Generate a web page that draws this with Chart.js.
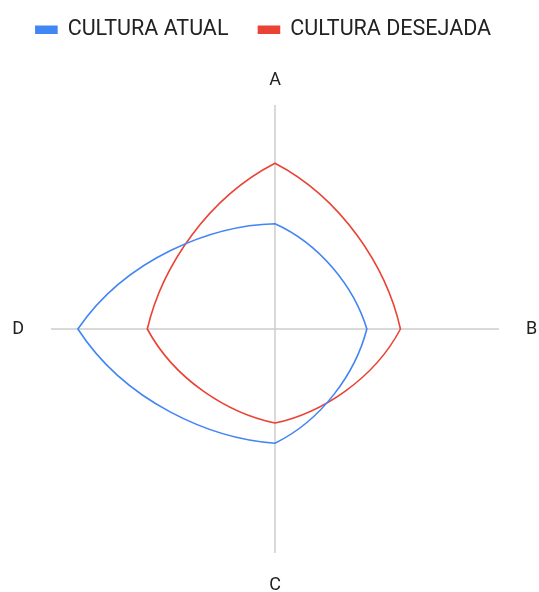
<!DOCTYPE html>
<html><head><meta charset="utf-8">
<script src="https://cdn.jsdelivr.net/npm/chart.js@4/dist/chart.umd.min.js"></script>
<style>html,body{margin:0;padding:0;background:#fff}#wrap{width:539px;height:592px}</style>
</head><body><div id="wrap"><canvas id="c"></canvas></div>
<script>
const categories = ['A', 'B', 'C', 'D'];
const atual = [47, 41, 51, 88];
const desejada = [74, 56, 42, 57];
const seriesNames = ['CULTURA ATUAL', 'CULTURA DESEJADA'];

// Curved segments: bezier control points blended between straight chords and polar arcs
const polarArcs = {
  id: 'polarArcs',
  beforeDatasetDraw(chart, args) {
    const meta = args.meta, scale = chart.scales.r, pts = meta.data, n = pts.length;
    if (!n) return;
    const cx = scale.xCenter, cy = scale.yCenter, dth = 2 * Math.PI / n, k = 1.05, w = 0.5;
    const pol = pts.map((p, i) => ({a: scale.getIndexAngle(i) - Math.PI / 2, r: Math.hypot(p.x - cx, p.y - cy)}));
    for (let i = 0; i < n; i++) {
      const j = (i + 1) % n;
      const dr = pol[j].r - pol[i].r;
      const ai = pol[i].a, aj = pol[j].a, ri = pol[i].r, rj = pol[j].r;
      const t0x = dr * Math.cos(ai) - ri * dth * Math.sin(ai);
      const t0y = dr * Math.sin(ai) + ri * dth * Math.cos(ai);
      const t1x = dr * Math.cos(aj) - rj * dth * Math.sin(aj);
      const t1y = dr * Math.sin(aj) + rj * dth * Math.cos(aj);
      const chx = (pts[j].x - pts[i].x) / 3, chy = (pts[j].y - pts[i].y) / 3;
      pts[i].cp2x = pts[i].x + w * k * t0x / 3 + (1 - w) * chx;
      pts[i].cp2y = pts[i].y + w * k * t0y / 3 + (1 - w) * chy;
      pts[j].cp1x = pts[j].x - w * k * t1x / 3 - (1 - w) * chx;
      pts[j].cp1y = pts[j].y - w * k * t1y / 3 - (1 - w) * chy;
    }
    meta.dataset._pointsUpdated = true;
    meta.dataset._path = undefined;
  }
};

const legendSpace = {
  id: 'legendSpace',
  beforeInit(chart) {
    const orig = chart.legend.fit;
    chart.legend.fit = function () { orig.call(this); this.height += 15.5; };
  },
  afterLayout(chart) {
    chart.legend.left -= 11.5;
    chart.legend.right -= 11.5;
  }
};

const labelPad = [11, 27, 25, 27];
const labelLineHeight = ['28px', '18px', '14px', '18px'];

new Chart(document.getElementById('c'), {
  type: 'radar',
  data: {
    labels: categories,
    datasets: [
      {label: seriesNames[0], data: atual, borderColor: '#4285F4', backgroundColor: '#4285F4', borderWidth: 1.6, pointRadius: 0, fill: false, tension: 0.3},
      {label: seriesNames[1], data: desejada, borderColor: '#EA4335', backgroundColor: '#EA4335', borderWidth: 1.6, pointRadius: 0, fill: false, tension: 0.3}
    ]
  },
  plugins: [polarArcs, legendSpace],
  options: {
    responsive: true, maintainAspectRatio: false, animation: false,
    layout: {padding: {top: -11, bottom: 0, left: 11, right: 0}},
    plugins: {
      legend: {position: 'top', labels: {boxWidth: 21, boxHeight: 7, color: '#222', font: {family: 'Roboto', size: 21.5}, padding: 30}},
      tooltip: {enabled: false}
    },
    scales: {
      r: {
        min: 0, max: 100,
        ticks: {display: false},
        grid: {display: false},
        angleLines: {color: '#cccccc', lineWidth: 1.5},
        pointLabels: {
          color: '#222',
          font: (ctx) => ({family: 'Roboto', size: 18, lineHeight: labelLineHeight[ctx.index]}),
          padding: (ctx) => labelPad[ctx.index]
        }
      }
    }
  }
});
</script></body></html>
